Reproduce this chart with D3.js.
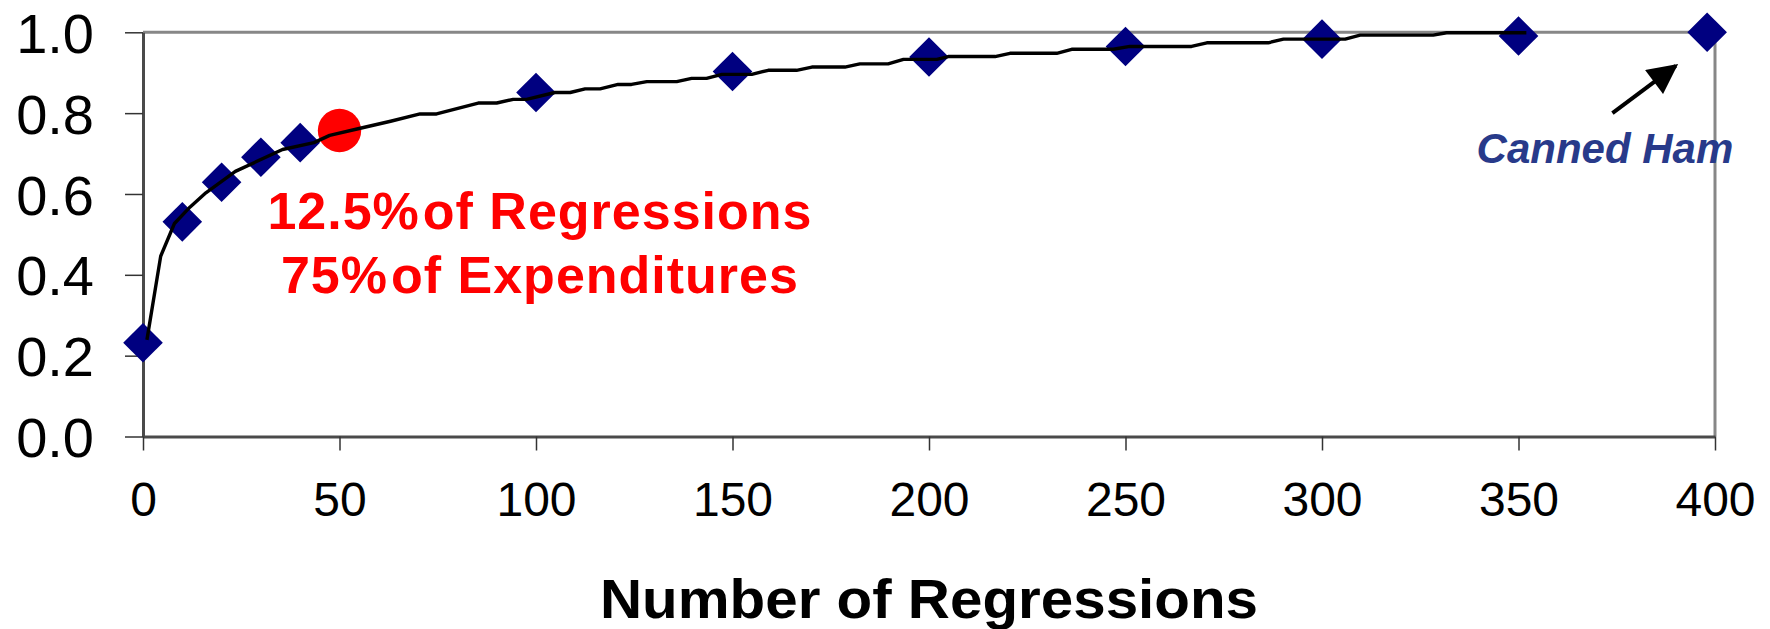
<!DOCTYPE html>
<html>
<head>
<meta charset="utf-8">
<script src="https://cdn.jsdelivr.net/npm/d3@7"></script>
<style>
  body { margin: 0; background: #fff; }
  text { font-family: "Liberation Sans", Arial, sans-serif; }
</style>
</head>
<body>
<div id="canvas"></div>
<script>
// diamonds
const markerX = [0, 10, 20, 30, 40, 100, 150, 200, 250, 300, 350, 398];
const markerY = [0.232, 0.531, 0.629, 0.691, 0.727, 0.851, 0.903, 0.939, 0.965, 0.983, 0.991, 1.0];

// red dot
const highlightX = [50];
const highlightY = [0.757];

// cumulative curve (vertices)
const curveX = [1, 4.5, 8, 12, 16, 23.5, 35.5, 43.5, 47.5, 55, 63, 70.5, 74.7, 85.3, 90, 94.2, 97.6,
  104.8, 108.7, 112.5, 116.3, 120.9, 124.3, 128.2, 135.8, 139.6, 143.4, 147.3, 154.9, 159.1,
  166.3, 170.2, 178.6, 182.4, 189.6, 193.5, 202, 204.9, 216.8, 220.6, 232.5, 236.3, 246.9,
  251.1, 266.8, 270.7, 286.3, 290.2, 305.9, 309.7, 328.3, 331.7, 352];
const curveY = [0.239, 0.446, 0.527, 0.568, 0.603, 0.656, 0.710, 0.727, 0.745, 0.762, 0.780, 0.798, 0.798,
  0.825, 0.825, 0.834, 0.834, 0.851, 0.851, 0.860, 0.860, 0.871, 0.871, 0.878, 0.878, 0.886,
  0.886, 0.896, 0.896, 0.906, 0.906, 0.914, 0.914, 0.922, 0.922, 0.933, 0.933, 0.940, 0.940,
  0.948, 0.948, 0.958, 0.958, 0.965, 0.965, 0.974, 0.974, 0.983, 0.983, 0.993, 0.993, 0.999, 0.999];

const xTicks = [0, 50, 100, 150, 200, 250, 300, 350, 400];
const yTicks = [0, 0.2, 0.4, 0.6, 0.8, 1.0];

const xTitle = "Number of Regressions";
const noteLines = [["12.5%", "of Regressions"], ["75%", "of Expenditures"]];
const hamLabel = "Canned Ham";

const width = 1770;
const height = 629;
const plotLeft = 143;
const plotRight = 1715;
const plotTop = 32.3;
const plotBottom = 436.5;

const xScale = d3.scaleLinear([0, 400], [plotLeft, plotRight]);
const yScale = d3.scaleLinear([0, 1], [plotBottom, plotTop]);

const svg = d3
  .select("#canvas")
  .append("svg")
  .attr("width", width)
  .attr("height", height)
  .attr("viewBox", [0, 0, width, height]);

// grey frame on top and right
svg
  .append("path")
  .attr("fill", "none")
  .attr("stroke", "#878787")
  .attr("stroke-width", 3)
  .attr("d", `M${plotLeft},${plotTop}H${plotRight}V${plotBottom}`);

// Draw yAxis
svg
  .append("g")
  .attr("transform", `translate(${plotLeft},0)`)
  .call(
    d3.axisLeft(yScale)
      .tickValues(yTicks)
      .tickFormat(d3.format(".1f"))
      .tickSize(18)
      .tickSizeOuter(0)
      .tickPadding(31)
  )
  .call((g) => g.select(".domain").attr("stroke", "#4a4a4a").attr("stroke-width", 3))
  .call((g) => g.selectAll(".tick line").attr("stroke", "#333").attr("stroke-width", 1.5))
  .call((g) =>
    g.selectAll(".tick text")
      .attr("font-size", 56)
      .attr("fill", "#000")
      .attr("dy", "0.36em")
      .style("font-family", '"Liberation Sans", Arial, sans-serif')
  );

// Draw xAxis
svg
  .append("g")
  .attr("transform", `translate(0,${plotBottom})`)
  .call(
    d3.axisBottom(xScale)
      .tickValues(xTicks)
      .tickSize(14)
      .tickSizeOuter(0)
      .tickPadding(31.5)
  )
  .call((g) => g.select(".domain").attr("stroke", "#4a4a4a").attr("stroke-width", 3))
  .call((g) => g.selectAll(".tick line").attr("stroke", "#333").attr("stroke-width", 1.5))
  .call((g) =>
    g.selectAll(".tick text")
      .attr("font-size", 48)
      .attr("fill", "#000")
      .style("font-family", '"Liberation Sans", Arial, sans-serif')
  );

// axis title
svg
  .append("text")
  .attr("x", (plotLeft + plotRight) / 2)
  .attr("y", 618)
  .attr("text-anchor", "middle")
  .attr("font-size", 55)
  .attr("font-weight", "bold")
  .attr("textLength", 658)
  .attr("lengthAdjust", "spacingAndGlyphs")
  .text(xTitle);

// diamonds
svg
  .selectAll(".marker")
  .data(d3.range(markerX.length))
  .enter()
  .append("path")
  .attr("class", "marker")
  .attr("fill", "#000080")
  .attr("transform", (i) => `translate(${xScale(markerX[i])},${yScale(markerY[i])}) rotate(45)`)
  .attr("d", "M-14,-14H14V14H-14Z");

// red dot
svg
  .selectAll(".hl")
  .data(highlightX)
  .enter()
  .append("circle")
  .attr("class", "hl")
  .attr("cx", (d) => xScale(d))
  .attr("cy", (d, i) => yScale(highlightY[i]))
  .attr("r", 21.7)
  .attr("fill", "#ff0000");

// Draw curve
const line = d3
  .line()
  .x((i) => xScale(curveX[i]))
  .y((i) => yScale(curveY[i]));

svg
  .append("path")
  .attr("fill", "none")
  .attr("stroke", "#000")
  .attr("stroke-width", 3.4)
  .attr("stroke-linejoin", "round")
  .attr("d", line(d3.range(curveX.length)));

// red note
const noteY = [0.513, 0.354];
noteLines.forEach((parts, k) => {
  const t = svg
    .append("text")
    .attr("x", xScale(101))
    .attr("y", yScale(noteY[k]))
    .attr("text-anchor", "middle")
    .attr("font-size", 52)
    .attr("font-weight", "bold")
    .attr("letter-spacing", 1)
    .attr("fill", "#ff0000");
  t.append("tspan").text(parts[0]);
  t.append("tspan").attr("dx", 3).text(parts[1]);
});

// canned ham label + arrow
svg
  .append("text")
  .attr("x", xScale(372))
  .attr("y", yScale(0.676))
  .attr("text-anchor", "middle")
  .attr("font-size", 42)
  .attr("font-weight", "bold")
  .attr("font-style", "italic")
  .attr("fill", "#283a8a")
  .text(hamLabel);

svg
  .append("defs")
  .append("marker")
  .attr("id", "head")
  .attr("viewBox", "0 0 10 10")
  .attr("refX", 9)
  .attr("refY", 5)
  .attr("markerWidth", 8)
  .attr("markerHeight", 7.5)
  .attr("markerUnits", "strokeWidth")
  .attr("orient", "auto")
  .append("path")
  .attr("d", "M0,0L10,5L0,10Z")
  .attr("fill", "#000");

svg
  .append("line")
  .attr("x1", xScale(373.9))
  .attr("y1", yScale(0.8))
  .attr("x2", xScale(390))
  .attr("y2", yScale(0.917))
  .attr("stroke", "#000")
  .attr("stroke-width", 4)
  .attr("marker-end", "url(#head)");
</script>
</body>
</html>
